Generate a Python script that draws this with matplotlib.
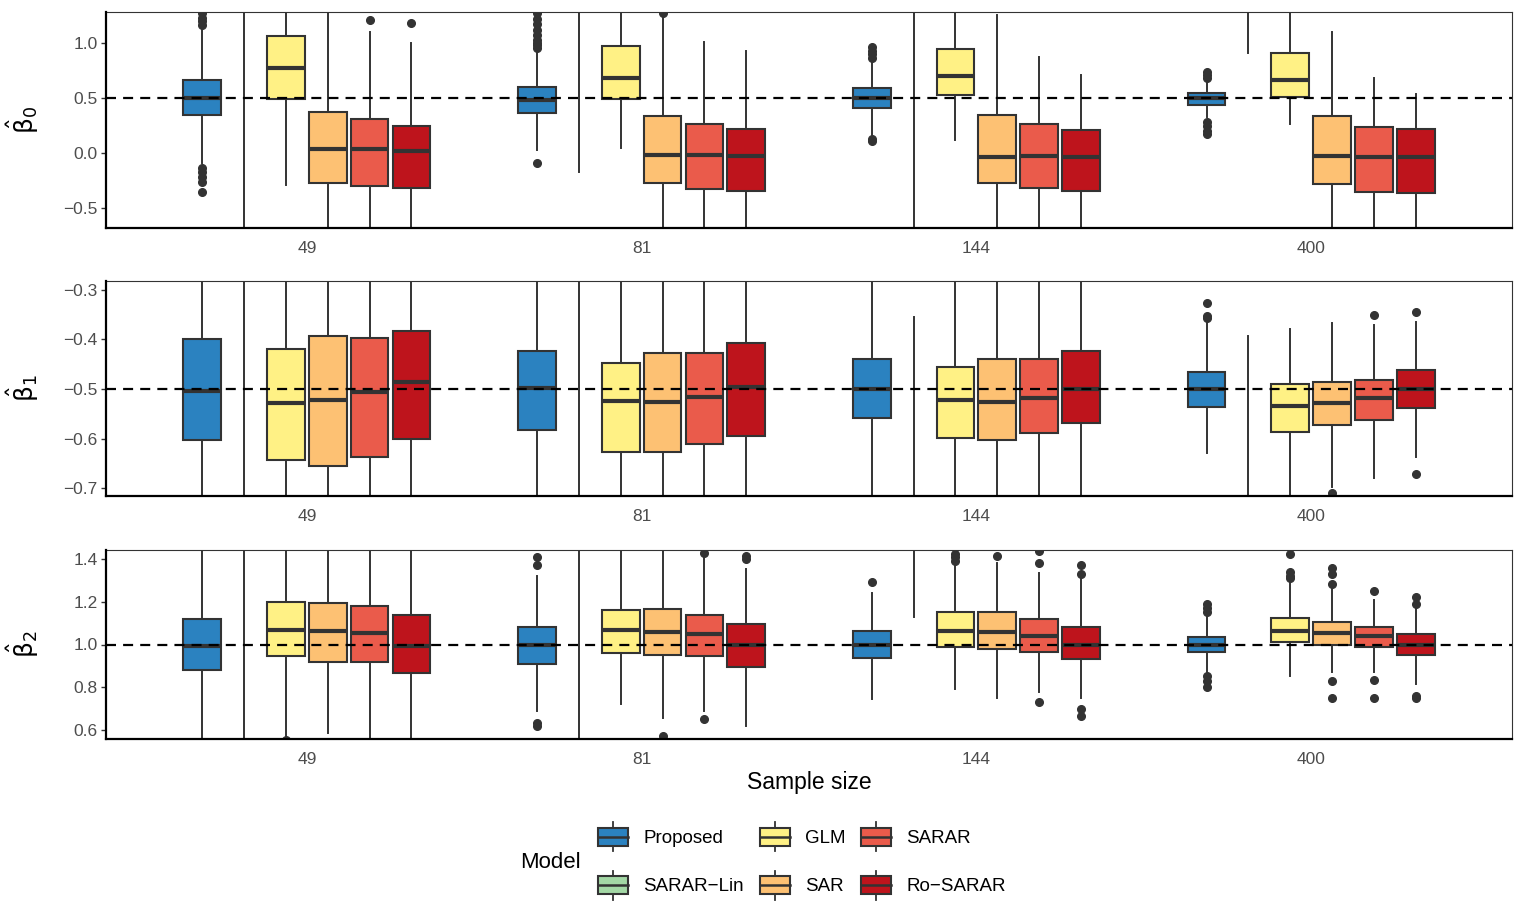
import matplotlib
matplotlib.use("Agg")
import matplotlib.pyplot as plt
from matplotlib.patches import Rectangle, Patch
from matplotlib.lines import Line2D
from matplotlib.legend_handler import HandlerBase
from matplotlib.ticker import FuncFormatter

plt.rcParams['font.family'] = ['Liberation Sans', 'DejaVu Sans']

models = ['Proposed', 'SARAR-Lin', 'GLM', 'SAR', 'SARAR', 'Ro-SARAR']
legend_labels = ['Proposed', 'SARAR\u2212Lin', 'GLM', 'SAR', 'SARAR', 'Ro\u2212SARAR']
colors = ['#2B82C0', '#A3D8A5', '#FFF185', '#FDC173', '#EA5B4B', '#BE141C']
sizes = ['49', '81', '144', '400']

# ---------------- beta_0 (true value 0.5) ----------------
b0_true = 0.5
b0_q1 = [[0.345, 0.36, 0.41, 0.435],
         [1.9, 1.6, 1.9, 1.5],
         [0.49, 0.49, 0.53, 0.51],
         [-0.27, -0.27, -0.27, -0.28],
         [-0.30, -0.33, -0.32, -0.35],
         [-0.32, -0.345, -0.34, -0.36]]
b0_med = [[0.50, 0.48, 0.50, 0.50],
          [2.4, 2.0, 2.4, 1.8],
          [0.77, 0.68, 0.70, 0.66],
          [0.035, -0.02, -0.04, -0.03],
          [0.035, -0.02, -0.03, -0.04],
          [0.02, -0.03, -0.035, -0.04]]
b0_q3 = [[0.66, 0.60, 0.59, 0.545],
         [3.0, 2.5, 3.0, 2.2],
         [1.064, 0.97, 0.94, 0.91],
         [0.37, 0.34, 0.345, 0.34],
         [0.31, 0.26, 0.26, 0.24],
         [0.245, 0.22, 0.21, 0.22]]
b0_lo = [[-0.09, 0.03, 0.16, 0.33],
         [-1.5, -0.17, -1.5, 0.91],
         [-0.29, 0.05, 0.12, 0.26],
         [-1.2, -1.1, -1.1, -1.0],
         [-1.2, -1.2, -1.1, -1.0],
         [-1.2, -1.2, -1.1, -1.0]]
b0_hi = [[1.12, 0.93, 0.84, 0.65],
         [5.0, 4.0, 5.0, 3.5],
         [1.8, 1.6, 1.5, 1.4],
         [1.8, 1.24, 1.25, 1.10],
         [1.10, 1.01, 0.87, 0.68],
         [1.00, 0.93, 0.71, 0.54]]
b0_out = [[[-0.35, -0.26, -0.22, -0.17, -0.14, 1.16, 1.2, 1.23, 1.27],
           [-0.09, 0.95, 0.98, 1.0, 1.03, 1.07, 1.12, 1.17, 1.22, 1.27],
           [0.11, 0.13, 0.86, 0.9, 0.93, 0.96],
           [0.17, 0.2, 0.25, 0.28, 0.68, 0.71, 0.74]],
          [[], [], [], []],
          [[], [], [], []],
          [[], [1.27], [], []],
          [[1.21], [], [], []],
          [[1.18], [], [], []]]

# ---------------- beta_1 (true value -0.5) ----------------
b1_true = -0.5
b1_q1 = [[-0.603, -0.583, -0.559, -0.536],
         [-0.2, -0.2, -1.1, -1.0],
         [-0.643, -0.627, -0.599, -0.587],
         [-0.655, -0.627, -0.603, -0.573],
         [-0.638, -0.611, -0.589, -0.563],
         [-0.600, -0.595, -0.569, -0.538]]
b1_med = [[-0.504, -0.498, -0.500, -0.500],
          [-0.1, -0.1, -0.95, -0.9],
          [-0.528, -0.524, -0.522, -0.534],
          [-0.523, -0.527, -0.526, -0.528],
          [-0.507, -0.516, -0.518, -0.518],
          [-0.486, -0.496, -0.500, -0.500]]
b1_q3 = [[-0.400, -0.423, -0.440, -0.466],
         [0.0, 0.0, -0.8, -0.78],
         [-0.420, -0.447, -0.456, -0.490],
         [-0.393, -0.427, -0.440, -0.486],
         [-0.397, -0.427, -0.440, -0.482],
         [-0.383, -0.407, -0.423, -0.462]]
b1_lo = [[-0.9, -0.85, -0.8, -0.63],
         [-1.3, -1.3, -1.6, -1.4],
         [-0.95, -0.9, -0.85, -0.75],
         [-0.95, -0.9, -0.85, -0.698],
         [-0.95, -0.9, -0.85, -0.68],
         [-0.9, -0.85, -0.8, -0.637]]
b1_hi = [[-0.1, -0.15, -0.2, -0.367],
         [0.3, 0.3, -0.355, -0.393],
         [-0.1, -0.15, -0.2, -0.379],
         [-0.1, -0.15, -0.2, -0.367],
         [-0.1, -0.15, -0.2, -0.371],
         [-0.1, -0.15, -0.2, -0.365]]
b1_out = [[[], [], [], [-0.357, -0.352, -0.326]],
          [[], [], [], []],
          [[], [], [], []],
          [[], [], [], [-0.71]],
          [[], [], [], [-0.35]],
          [[], [], [], [-0.344, -0.672]]]

# ---------------- beta_2 (true value 1.0) ----------------
b2_true = 1.0
b2_q1 = [[0.883, 0.910, 0.935, 0.963],
         [1.6, 1.6, 1.6, 1.7],
         [0.944, 0.958, 0.990, 1.010],
         [0.916, 0.953, 0.977, 1.000],
         [0.920, 0.944, 0.967, 0.987],
         [0.866, 0.897, 0.930, 0.949]]
b2_med = [[0.995, 1.000, 1.000, 1.000],
          [1.8, 1.8, 1.8, 1.9],
          [1.070, 1.070, 1.065, 1.065],
          [1.065, 1.060, 1.060, 1.056],
          [1.056, 1.047, 1.042, 1.042],
          [0.995, 1.000, 1.000, 1.000]]
b2_q3 = [[1.117, 1.080, 1.065, 1.033],
         [2.0, 2.0, 2.0, 2.1],
         [1.200, 1.163, 1.150, 1.126],
         [1.196, 1.168, 1.150, 1.107],
         [1.178, 1.136, 1.117, 1.084],
         [1.140, 1.098, 1.084, 1.047]]
b2_lo = [[0.4, 0.687, 0.743, 0.870],
         [0.2, 0.2, 1.13, 1.5],
         [0.57, 0.724, 0.790, 0.855],
         [0.585, 0.655, 0.750, 0.870],
         [0.4, 0.690, 0.780, 0.870],
         [0.4, 0.617, 0.750, 0.813]]
b2_hi = [[1.6, 1.320, 1.243, 1.135],
         [3.0, 3.0, 3.0, 3.0],
         [1.6, 1.6, 1.380, 1.290],
         [1.6, 1.6, 1.383, 1.260],
         [1.6, 1.410, 1.335, 1.206],
         [1.6, 1.355, 1.310, 1.173]]
b2_out = [[[], [0.62, 0.635, 1.37, 1.41], [1.29], [0.80, 0.83, 0.855, 1.15, 1.17, 1.19]],
          [[], [], [], []],
          [[0.555], [], [1.39, 1.41, 1.425], [1.31, 1.32, 1.34, 1.425]],
          [[], [0.57], [1.415], [0.75, 0.83, 1.285, 1.33, 1.36]],
          [[], [0.65, 1.43], [0.73, 1.38, 1.435], [0.75, 0.835, 1.25]],
          [[], [1.40, 1.415], [0.665, 0.70, 1.33, 1.37], [0.75, 0.76, 1.19, 1.22]]]

panels = [
    dict(q1=b0_q1, med=b0_med, q3=b0_q3, lo=b0_lo, hi=b0_hi, out=b0_out, true=b0_true,
         ylim=(-0.68, 1.28), yticks=[-0.5, 0.0, 0.5, 1.0], label=r'$\hat{\mathrm{\beta}}_0$'),
    dict(q1=b1_q1, med=b1_med, q3=b1_q3, lo=b1_lo, hi=b1_hi, out=b1_out, true=b1_true,
         ylim=(-0.716, -0.282), yticks=[-0.7, -0.6, -0.5, -0.4, -0.3], label=r'$\hat{\mathrm{\beta}}_1$'),
    dict(q1=b2_q1, med=b2_med, q3=b2_q3, lo=b2_lo, hi=b2_hi, out=b2_out, true=b2_true,
         ylim=(0.558, 1.442), yticks=[0.6, 0.8, 1.0, 1.2, 1.4], label=r'$\hat{\mathrm{\beta}}_2$'),
]

W, H = 1526, 915
fig = plt.figure(figsize=(W / 100, H / 100), dpi=100)

rects = [(12, 228), (281, 496), (550, 739)]
left_px, right_px = 106, 1512
edge = '#333333'
slot = 0.75 / len(models)

fmt = FuncFormatter(lambda v, _: ('%.1f' % v).replace('-', '\u2212'))

for p, (top, bot) in zip(panels, rects):
    ax = fig.add_axes([left_px / W, (H - bot) / H, (right_px - left_px) / W, (bot - top) / H])
    for m in range(len(models)):
        stats = []
        for g in range(len(sizes)):
            stats.append(dict(med=p['med'][m][g], q1=p['q1'][m][g], q3=p['q3'][m][g],
                              whislo=p['lo'][m][g], whishi=p['hi'][m][g],
                              fliers=p['out'][m][g]))
        pos = [g + 1 + (m - 2.5) * slot for g in range(len(sizes))]
        ax.bxp(stats, positions=pos, widths=slot * 0.9, patch_artist=True,
               showcaps=False, manage_ticks=False,
               boxprops=dict(facecolor=colors[m], edgecolor=edge, linewidth=1.5),
               medianprops=dict(color=edge, linewidth=3.0, solid_capstyle='butt'),
               whiskerprops=dict(color=edge, linewidth=1.4),
               flierprops=dict(marker='o', markerfacecolor=edge, markeredgecolor=edge,
                               markersize=5.5, linestyle='none'))
    ax.axhline(p['true'], color='black', linewidth=1.6, linestyle=(0, (4.5, 3.2)), zorder=10)
    ax.set_xlim(0.4, 4.6)
    ax.set_ylim(*p['ylim'])
    ax.set_yticks(p['yticks'])
    ax.yaxis.set_major_formatter(fmt)
    ax.set_xticks(range(1, len(sizes) + 1))
    ax.set_xticklabels(sizes)
    ax.tick_params(axis='x', length=0, pad=9.5, labelsize=12.5, labelcolor='#4D4D4D')
    ax.tick_params(axis='y', length=3.5, width=1.0, color=edge, pad=2.5,
                   labelsize=12.5, labelcolor='#4D4D4D')
    for s in ['left', 'bottom']:
        ax.spines[s].set_linewidth(1.6)
        ax.spines[s].set_color('black')
        ax.spines[s].set_zorder(12)
    for s in ['top', 'right']:
        ax.spines[s].set_linewidth(0.8)
        ax.spines[s].set_color(edge)
    ax.set_ylabel(p['label'], fontsize=18, color='black')
    ax.yaxis.set_label_coords(-0.046, 0.5)

fig.text(809 / W, 1 - 782 / H, 'Sample size', ha='center', va='center', fontsize=16.5)


class BoxHandler(HandlerBase):
    def create_artists(self, legend, orig_handle, xdescent, ydescent, width, height,
                       fontsize, trans):
        x0, y0 = -xdescent, -ydescent
        bh = height * 0.62
        by = y0 + (height - bh) / 2
        xc = x0 + width / 2
        w1 = Line2D([xc, xc], [y0, by], color=edge, lw=1.3, transform=trans)
        w2 = Line2D([xc, xc], [by + bh, y0 + height], color=edge, lw=1.3, transform=trans)
        rect = Rectangle((x0, by), width, bh, facecolor=orig_handle.get_facecolor(),
                         edgecolor=edge, lw=1.5, transform=trans)
        med = Line2D([x0, x0 + width], [y0 + height / 2] * 2, color=edge, lw=1.8,
                     transform=trans)
        return [w1, w2, rect, med]


handles = [Patch(facecolor=c) for c in colors]
fig.legend(handles, legend_labels, ncol=3, loc='center', bbox_to_anchor=(802 / W, 1 - 861 / H),
           frameon=False, fontsize=13.5, handler_map={Patch: BoxHandler()},
           handlelength=1.6, handleheight=2.0, handletextpad=0.8,
           columnspacing=0.85, labelspacing=1.05)
fig.text(550 / W, 1 - 862 / H, 'Model', ha='center', va='center', fontsize=16)

fig.savefig('out.png', dpi=100)
